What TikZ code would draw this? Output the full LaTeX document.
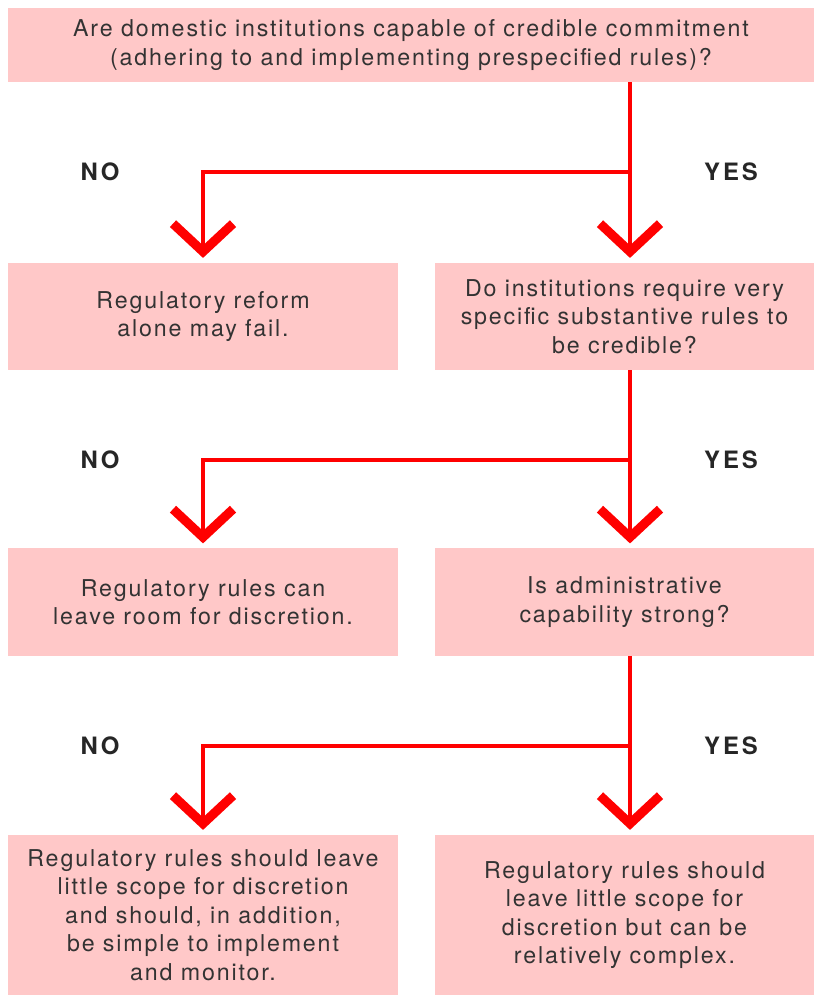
\documentclass[tikz,border=0pt]{standalone}
\usepackage{fontspec}
\setmainfont{TeX Gyre Heros}[LetterSpace=8]
\newfontfamily\answerfont{TeX Gyre Heros}[LetterSpace=12]
\usetikzlibrary{arrows.meta}
\definecolor{boxpink}{HTML}{FFC8C8}
\definecolor{flowred}{HTML}{FF0000}
\definecolor{txtgray}{HTML}{333333}
\tikzset{
  box/.style={fill=boxpink, text=txtgray, align=center, inner sep=0pt,
    font=\fontsize{16.5}{20.3}\selectfont},
  wide/.style={box, minimum width=20.15cm, minimum height=1.85cm},
  leftbox/.style={box, minimum width=9.75cm, minimum height=2.675cm},
  rightbox/.style={box, minimum width=9.475cm, minimum height=2.675cm},
  flow/.style={draw=flowred, line width=3.5pt, shorten >=0.12cm,
    -{Straight Barb[length=0.7cm,width=1.5cm,line width=6.5pt]}},
  answer/.style={font=\answerfont\fontsize{17}{17}\bfseries\selectfont, text=black!85}
}
\begin{document}
\begin{tikzpicture}[x=0.025cm, y=-0.025cm]
    \useasboundingbox (0,0) rectangle (814,995);
    \node[wide] (q1) at (411,45)
      {Are domestic institutions capable of credible commitment\\
       (adhering to and implementing prespecified rules)?};
    \node[leftbox] (n1) at (203,316.5) {Regulatory reform\\alone may fail.};
    \node[rightbox] (q2) at (624.5,316.5)
      {Do institutions require very\\specific substantive rules to\\be credible?};
    \node[leftbox] (n2) at (203,602) {Regulatory rules can\\leave room for discretion.};
    \node[rightbox] (q3) at (624.5,602) {Is administrative\\capability strong?};
    \node[leftbox, minimum height=4cm] (n3) at (203,915)
      {Regulatory rules should leave\\little scope for discretion\\and should, in addition,\\be simple to implement\\and monitor.};
    \node[rightbox, minimum height=4cm] (y3) at (624.5,915)
      {Regulatory rules should\\leave little scope for\\discretion but can be\\relatively complex.};
    \coordinate (j1) at (630,172);
    \coordinate (j2) at (630,460);
    \coordinate (j3) at (630,746);
    \node[answer] (no1) at (100,172) {NO};
    \node[answer] (yes1) at (731,172) {YES};
    \node[answer] (no2) at (100,460) {NO};
    \node[answer] (yes2) at (731,460) {YES};
    \node[answer] (no3) at (100,746) {NO};
    \node[answer] (yes3) at (731,746) {YES};
    \draw[flow] (q1.south -| j1) -- (q2.north -| j1);
    \draw[flow] (j1) -| (n1.north);
    \draw[flow] (q2.south -| j2) -- (q3.north -| j2);
    \draw[flow] (j2) -| (n2.north);
    \draw[flow] (q3.south -| j3) -- (y3.north -| j3);
    \draw[flow] (j3) -| (n3.north);
  \end{tikzpicture}
\end{document}
